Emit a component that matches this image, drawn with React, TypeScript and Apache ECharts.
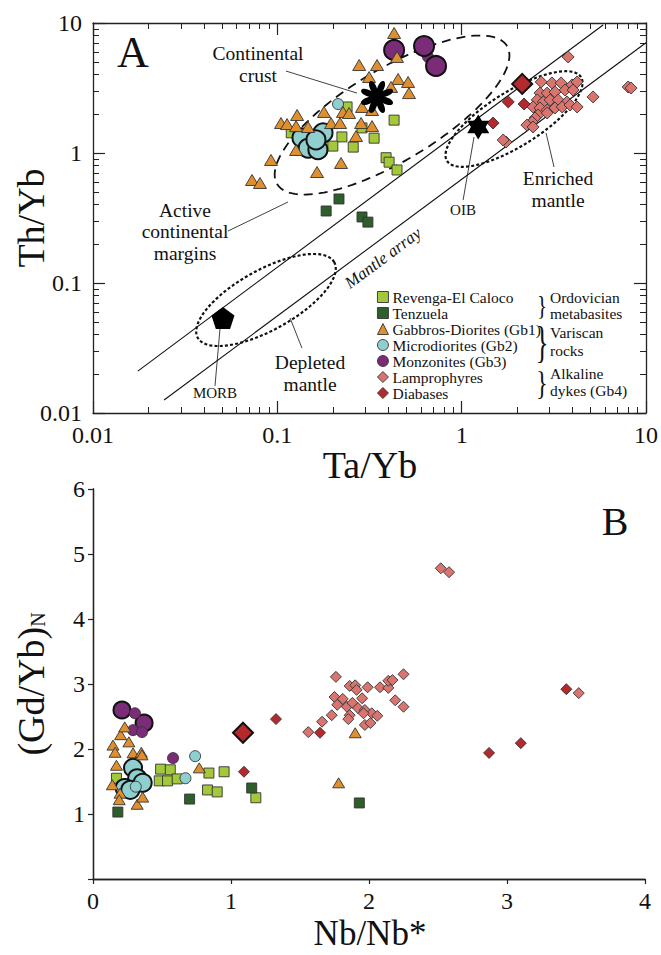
import React, { useEffect, useRef } from "react";
import * as echarts from "echarts";

// ---------- Panel A : Ta/Yb (x) vs Th/Yb (y) ----------
const revengaA = [[0.119,1.43],[0.239,2.26],[0.224,1.33],[0.200,1.13],[0.258,1.11],[0.335,1.30],[0.430,1.79],[0.389,0.92],[0.404,0.85],[0.446,0.74],[0.288,1.56]];
const tenzuelaA = [[0.216,0.443],[0.184,0.358],[0.288,0.322],[0.310,0.294]];
const gabbrosA = [[0.430,8.38],[0.446,5.48],[0.278,4.75],[0.3475,4.75],[0.3145,3.84],[0.452,3.71],[0.512,3.52],[0.414,3.22],[0.518,2.89],[0.288,2.26],[0.3265,2.14],[0.179,2.07],[0.227,2.07],[0.245,2.03],[0.128,1.96],[0.1047,1.70],[0.1129,1.67],[0.1264,1.61],[0.1467,1.585],[0.1956,1.70],[0.2189,1.70],[0.2846,1.70],[0.3265,1.61],[0.2673,1.35],[0.1264,1.055],[0.0924,0.884],[0.1642,0.714],[0.2215,0.838],[0.0729,0.62],[0.0805,0.588]];
const microSmallA = [[0.2135,2.38]];
const microLargeA = [[0.136,1.31],[0.177,1.43],[0.147,1.09],[0.166,1.06],[0.162,1.26]];
const monzSmallA = [[0.657,5.48]];
const monzLargeA = [[0.430,6.20],[0.625,6.65],[0.726,4.67]];
const lamproA = [[3.78,5.48],[2.70,3.52],[3.09,3.46],[3.46,3.46],[3.97,3.34],[4.23,3.52],[2.66,2.89],[2.91,2.89],[3.21,2.95],[3.64,3.05],[4.02,3.05],[2.57,2.56],[2.77,2.47],[3.02,2.56],[3.34,2.56],[3.73,2.47],[2.44,2.26],[2.66,2.22],[2.91,2.14],[3.21,2.22],[3.51,2.26],[3.87,2.34],[4.23,2.26],[2.60,1.96],[2.91,2.03],[2.50,1.86],[2.41,1.73],[2.26,1.64],[2.44,1.585],[1.74,1.215],[1.68,1.259],[5.16,2.70],[8.0,3.22],[8.3,3.16]];
const diabSmallA = [[1.79,2.47],[2.18,2.38],[1.48,1.70]];
const diabLargeA = [[2.13,3.40]];
const morbA = [[0.0507,0.0538]];
const oibA = [[1.23,1.585]];
const crustA = [[0.3475,2.70]];
// mantle array lines (end points)
const mantleUpper = [[0.0175,0.021],[5.85,9.66]];
const mantleLower = [[0.0243,0.0126],[10,7.05]];
// ellipses: major axis end points + half minor width (in x-decades)
const ellCrust = { e1: [0.0997,0.577], e2: [1.762,6.65], b: 0.25 };
const ellEnriched = { e1: [0.833,0.869], e2: [4.44,3.836], b: 0.147 };
const ellDepleted = { e1: [0.0370,0.0379], e2: [0.2036,0.1445], b: 0.163 };
// leader lines
const leadCrust = [[0.1114,4.27],[0.2706,2.89]];
const leadActive = [[0.054,0.251],[0.1143,0.42]];
const leadMorb = [[0.0489,0.0451],[0.0459,0.01615]];
const leadDepleted = [[0.1172,0.0538],[0.136,0.0316]];
const leadOib = [[1.167,1.327],[1.018,0.4345]];
const leadEnriched = [[2.87,1.425],[3.17,0.78]];

// ---------- Panel B : Nb/Nb* (x) vs (Gd/Yb)N (y) ----------
const revengaB = [[0.17,1.55],[0.49,1.69],[0.56,1.68],[0.48,1.51],[0.54,1.51],[0.61,1.54],[0.84,1.63],[0.95,1.65],[0.83,1.37],[0.90,1.34],[1.18,1.25]];
const tenzuelaB = [[0.18,1.03],[0.70,1.23],[1.15,1.40],[1.93,1.17]];
const gabbrosB = [[0.20,2.22],[0.26,2.11],[0.145,2.06],[0.16,1.95],[0.29,1.94],[0.35,1.95],[0.355,1.91],[0.17,1.75],[0.14,1.45],[0.196,1.32],[0.19,1.22],[0.32,1.15],[0.36,1.26],[0.77,1.71],[1.78,1.48],[1.90,2.25],[0.23,2.34]];
const microSmallB = [[0.31,1.42],[0.74,1.89],[0.67,1.55]];
const microLargeB = [[0.29,1.71],[0.32,1.55],[0.36,1.48],[0.23,1.40],[0.27,1.37]];
const monzSmallB = [[0.304,2.55],[0.29,2.29],[0.355,2.26],[0.58,1.86]];
const monzLargeB = [[0.21,2.60],[0.37,2.40]];
const lamproB = [[1.56,2.26],[1.76,3.11],[1.86,2.97],[1.90,2.98],[1.91,2.91],[1.99,2.95],[2.08,2.95],[2.14,2.94],[2.14,3.05],[2.17,3.06],[2.25,3.15],[1.75,2.80],[1.81,2.77],[1.95,2.78],[1.77,2.68],[1.84,2.65],[1.88,2.71],[1.92,2.63],[1.97,2.60],[2.02,2.55],[2.06,2.51],[1.73,2.52],[1.86,2.52],[1.96,2.55],[1.85,2.46],[1.66,2.42],[1.97,2.37],[2.01,2.40],[2.19,2.75],[2.25,2.65],[3.52,2.86],[2.52,4.78],[2.58,4.72]];
const diabSmallB = [[1.326,2.46],[1.094,1.65],[1.645,2.25],[2.87,1.94],[3.10,2.09],[3.43,2.92]];
const diabLargeB = [[1.087,2.25]];

const xTicksA = [0.01, 0.1, 1, 10];
const yTicksA = [0.01, 0.1, 1, 10];
const legendNames = ["Revenga-El Caloco","Tenzuela","Gabbros-Diorites (Gb1)","Microdiorites (Gb2)","Monzonites (Gb3)","Lamprophyres","Diabases"];

const FONT = "Liberation Serif";
const C = {
  rev: "#a3c93a", ten: "#2e5e2c", gab: "#df8f2e", mic: "#8fcfd0",
  mon: "#7a2c79", lam: "#d9746f", dia: "#b5282b",
};

function minorTicks(lo: number, hi: number) {
  const out: number[] = [];
  for (let d = lo; d < hi; d *= 10) for (let k = 2; k <= 9; k++) out.push(+(d * k).toPrecision(3));
  return out;
}

const ASPECT = 130 / 184.33; // px per y-decade / px per x-decade in panel A
function ellipse(e: any, n = 160) {
  const x1 = Math.log10(e.e1[0]), y1 = Math.log10(e.e1[1]) * ASPECT;
  const x2 = Math.log10(e.e2[0]), y2 = Math.log10(e.e2[1]) * ASPECT;
  const cx = (x1 + x2) / 2, cy = (y1 + y2) / 2;
  const dx = (x2 - x1) / 2, dy = (y2 - y1) / 2;
  const a = Math.hypot(dx, dy);
  const ux = dx / a, uy = dy / a, nx = -uy, ny = ux;
  const pts: number[][] = [];
  for (let i = 0; i <= n; i++) {
    const t = (2 * Math.PI * i) / n;
    const px = cx + a * Math.cos(t) * ux + e.b * Math.sin(t) * nx;
    const py = cy + a * Math.cos(t) * uy + e.b * Math.sin(t) * ny;
    pts.push([Math.pow(10, px), Math.pow(10, py / ASPECT)]);
  }
  return pts;
}

function asteriskPath() {
  let d = "";
  const L = 50;
  for (let i = 0; i < 8; i++) {
    const a = (i * Math.PI) / 4 + Math.PI / 8;
    const ca = Math.cos(a), sa = Math.sin(a);
    const tr = (u: number, v: number) => `${(50 + u * ca - v * sa).toFixed(2)} ${(50 + u * sa + v * ca).toFixed(2)}`;
    const w = 13;
    d += `M${tr(0, 0)} C${tr(L * 0.25, w)} ${tr(L * 1.0, w)} ${tr(L, 0)} C${tr(L * 1.0, -w)} ${tr(L * 0.25, -w)} ${tr(0, 0)} Z `;
  }
  return "path://" + d;
}
function starPath() {
  const pts: string[] = [];
  for (let i = 0; i < 12; i++) {
    const r = i % 2 === 0 ? 50 : 29;
    const a = -Math.PI / 2 + (i * Math.PI) / 6;
    pts.push(`${(50 + r * Math.cos(a)).toFixed(2)} ${(50 + r * Math.sin(a)).toFixed(2)}`);
  }
  return "path://M" + pts.join(" L") + " Z";
}
function pentagonPath() {
  const pts: string[] = [];
  for (let i = 0; i < 5; i++) {
    const a = -Math.PI / 2 + (i * 2 * Math.PI) / 5;
    pts.push(`${(50 + 50 * Math.cos(a)).toFixed(2)} ${(50 + 50 * Math.sin(a)).toFixed(2)}`);
  }
  return "path://M" + pts.join(" L") + " Z";
}

export default function App() {
  const ref = useRef<HTMLDivElement>(null);
  useEffect(() => {
    if (!ref.current) return;
    const chart = echarts.init(ref.current, null, { renderer: "svg" });
    const axisLine = { show: true, lineStyle: { color: "#222", width: 1.3 } };
    const labelStyle = { fontFamily: FONT, fontSize: 24, color: "#111" };
    const logAxis = (extra: any) => ({
      type: "log", logBase: 10, min: 0.01, max: 10, gridIndex: 0,
      splitLine: { show: false }, axisLine: { show: false }, axisLabel: { show: false },
      axisTick: { show: false }, ...extra,
    });
    const majorTick = { show: true, inside: true, length: 12, customValues: xTicksA, lineStyle: { color: "#222", width: 1.2 } };
    const minorTick = { show: true, inside: true, length: 6, customValues: minorTicks(0.01, 10), lineStyle: { color: "#222", width: 1 } };
    const yMajorTick = { ...majorTick, customValues: yTicksA };

    const sc = (name: string, data: any, xi: number, yi: number, symbol: string, size: any, color: string, big = false, z = 3) => ({
      type: "scatter", name, data, xAxisIndex: xi, yAxisIndex: yi, symbol, symbolSize: size, z,
      itemStyle: { color, borderColor: big ? "#111" : "#333", borderWidth: big ? 2 : 0.9, opacity: 1 },
      emphasis: { disabled: true }, silent: true,
    });
    const ln = (data: any, type: any, width: number) => ({
      type: "line", data, xAxisIndex: 0, yAxisIndex: 0, symbol: "none", silent: true, z: 2,
      lineStyle: { color: "#111", width, type }, animation: false,
    });

    const seriesA = [
      ln(mantleUpper, "solid", 1.1), ln(mantleLower, "solid", 1.1),
      ln(ellipse(ellCrust), [9, 6], 1.8), ln(ellipse(ellEnriched), [3, 2.2], 2.2), ln(ellipse(ellDepleted), [3, 2.2], 2.2),
      ln(leadCrust, "solid", 0.8), ln(leadActive, "solid", 0.8), ln(leadMorb, "solid", 0.8),
      ln(leadDepleted, "solid", 0.8), ln(leadOib, "solid", 0.8), ln(leadEnriched, "solid", 0.8),
      sc(legendNames[0], revengaA, 0, 0, "rect", 10, C.rev),
      sc(legendNames[1], tenzuelaA, 0, 0, "rect", 10, C.ten),
      sc(legendNames[3], microSmallA, 0, 0, "circle", 11, C.mic),
      sc(legendNames[3], microLargeA, 0, 0, "circle", 19, C.mic, true),
      sc(legendNames[2], gabbrosA, 0, 0, "triangle", [13, 11], C.gab, false, 4),
      sc(legendNames[4], monzSmallA, 0, 0, "circle", 11, C.mon),
      sc(legendNames[4], monzLargeA, 0, 0, "circle", 20, C.mon, true),
      sc(legendNames[5], lamproA, 0, 0, "diamond", [12, 12], C.lam),
      sc(legendNames[6], diabSmallA, 0, 0, "diamond", [12, 12], C.dia),
      sc(legendNames[6], diabLargeA, 0, 0, "diamond", [20, 20], C.dia, true),
      { type: "scatter", name: "MORB", data: morbA, xAxisIndex: 0, yAxisIndex: 0, symbol: pentagonPath(), symbolSize: [23, 22], itemStyle: { color: "#000", opacity: 1 }, silent: true, z: 5 },
      { type: "scatter", name: "OIB", data: oibA, xAxisIndex: 0, yAxisIndex: 0, symbol: starPath(), symbolSize: [22, 25], itemStyle: { color: "#000", opacity: 1 }, silent: true, z: 5 },
      { type: "scatter", name: "Continental crust", data: crustA, xAxisIndex: 0, yAxisIndex: 0, symbol: asteriskPath(), symbolSize: [32, 32], itemStyle: { color: "#000", opacity: 1 }, silent: true, z: 5 },
    ];
    const seriesB = [
      sc(legendNames[0], revengaB, 4, 4, "rect", 10, C.rev),
      sc(legendNames[1], tenzuelaB, 4, 4, "rect", 10, C.ten),
      sc(legendNames[3], microLargeB, 4, 4, "circle", 18, C.mic, true),
      sc(legendNames[3], microSmallB, 4, 4, "circle", 11, C.mic),
      sc(legendNames[2], gabbrosB, 4, 4, "triangle", [12, 10], C.gab, false, 4),
      sc(legendNames[4], monzLargeB, 4, 4, "circle", 17, C.mon, true),
      sc(legendNames[4], monzSmallB, 4, 4, "circle", 11, C.mon),
      sc(legendNames[5], lamproB, 4, 4, "diamond", [11, 11], C.lam),
      sc(legendNames[6], diabSmallB, 4, 4, "diamond", [11, 11], C.dia),
      sc(legendNames[6], diabLargeB, 4, 4, "diamond", [20, 20], C.dia, true),
    ];

    const t = (text: string, x: number, y: number, size: number, extra: any = {}) => ({
      type: "text", x, y, z: 10, silent: true,
      style: { text, fontFamily: FONT, fontSize: size, fill: "#111", align: "center", verticalAlign: "middle", ...extra },
    });
    const rot = (deg: number) => (deg * Math.PI) / 180;

    const option: any = {
      animation: false,
      backgroundColor: "#fff",
      textStyle: { fontFamily: FONT },
      grid: [
        { left: 93, top: 23, width: 553, height: 390 },
        { left: 93, top: 489, width: 552, height: 390 },
      ],
      xAxis: [
        logAxis({ position: "bottom", axisLine, axisTick: majorTick, axisLabel: { show: true, ...labelStyle, margin: 10, customValues: xTicksA, formatter: (v: number) => String(+v.toPrecision(2)) } }),
        logAxis({ position: "bottom", axisTick: minorTick }),
        logAxis({ position: "top", axisLine, axisTick: majorTick }),
        logAxis({ position: "top", axisTick: minorTick }),
        { type: "value", gridIndex: 1, min: 0, max: 4, interval: 1, position: "bottom", splitLine: { show: false }, axisLine,
          axisTick: { show: true, inside: false, length: 5, lineStyle: { color: "#222", width: 1.2 } },
          axisLabel: { ...labelStyle, margin: 10 } },
        { type: "value", gridIndex: 1, min: 0, max: 4, position: "top", splitLine: { show: false }, axisLine, axisTick: { show: false }, axisLabel: { show: false } },
      ],
      yAxis: [
        logAxis({ position: "left", axisLine, axisTick: yMajorTick, axisLabel: { show: true, ...labelStyle, margin: 11, customValues: yTicksA, formatter: (v: number) => String(+v.toPrecision(2)) } }),
        logAxis({ position: "left", axisTick: minorTick }),
        logAxis({ position: "right", axisLine, axisTick: yMajorTick }),
        logAxis({ position: "right", axisTick: minorTick }),
        { type: "value", gridIndex: 1, min: 0, max: 6, interval: 1, position: "left", splitLine: { show: false }, axisLine,
          axisTick: { show: true, inside: false, length: 5, lineStyle: { color: "#222", width: 1.2 } },
          axisLabel: { ...labelStyle, margin: 8, formatter: (v: number) => (v === 0 ? "" : String(v)) } },
        { type: "value", gridIndex: 1, min: 0, max: 6, position: "right", splitLine: { show: false }, axisLine, axisTick: { show: false }, axisLabel: { show: false } },
      ],
      legend: {
        data: legendNames, orient: "vertical", left: 377, top: 289, itemGap: 0, itemWidth: 11, itemHeight: 11,
        selectedMode: false, padding: 0, itemStyle: { borderWidth: 0.9, borderColor: "#333" },
        textStyle: { fontFamily: FONT, fontSize: 15.5, color: "#111", lineHeight: 15.5, padding: [0, 0, 0, -1] },
      },
      series: [...seriesA, ...seriesB],
      graphic: [
        t("A", 133, 52, 44),
        t("B", 615, 521, 40),
        { ...t("Th/Yb", 31, 218, 38), rotation: rot(90) },
        t("Ta/Yb", 370, 465, 38),
        t("Nb/Nb*", 370, 933, 35),
        { type: "text", x: 31, y: 684, rotation: rot(90), z: 10, silent: true,
          style: { text: "{a|(Gd/Yb)}{s|N}", align: "center", verticalAlign: "middle", fill: "#111",
            rich: { a: { fontFamily: FONT, fontSize: 38, fill: "#111" }, s: { fontFamily: FONT, fontSize: 20, fill: "#111", padding: [14, 0, 0, 0] } } } },
        t("Continental", 258, 53, 19.5),
        t("crust", 258, 75, 19.5),
        t("Active", 185, 210, 19.5),
        t("continental", 185, 231, 19.5),
        t("margins", 185, 253, 19.5),
        t("Depleted", 310, 362, 19.5),
        t("mantle", 310, 384, 19.5),
        t("Enriched", 558, 178, 19.5),
        t("mantle", 558, 200, 19.5),
        t("MORB", 215, 393, 15),
        t("OIB", 463, 210, 15),
        { ...t("Mantle array", 383, 258, 17, { fontStyle: "italic" }), rotation: rot(36.6) },
        { ...t("}", 542, 305, 28), scaleX: 0.75 },
        { ...t("}", 542, 342, 44), scaleX: 0.6 },
        { ...t("}", 542, 382, 34), scaleX: 0.7 },
        t("Ordovician", 550, 297, 15.5, { align: "left" }),
        t("metabasites", 550, 313, 15.5, { align: "left" }),
        t("Variscan", 550, 332, 15.5, { align: "left" }),
        t("rocks", 550, 350, 15.5, { align: "left" }),
        t("Alkaline", 550, 373, 15.5, { align: "left" }),
        t("dykes (Gb4)", 550, 390, 15.5, { align: "left" }),
      ],
    };
    chart.setOption(option);
    return () => chart.dispose();
  }, []);
  return <div ref={ref} style={{ position: "absolute", left: 0, top: 0, width: 661, height: 955, background: "#fff" }} />;
}
